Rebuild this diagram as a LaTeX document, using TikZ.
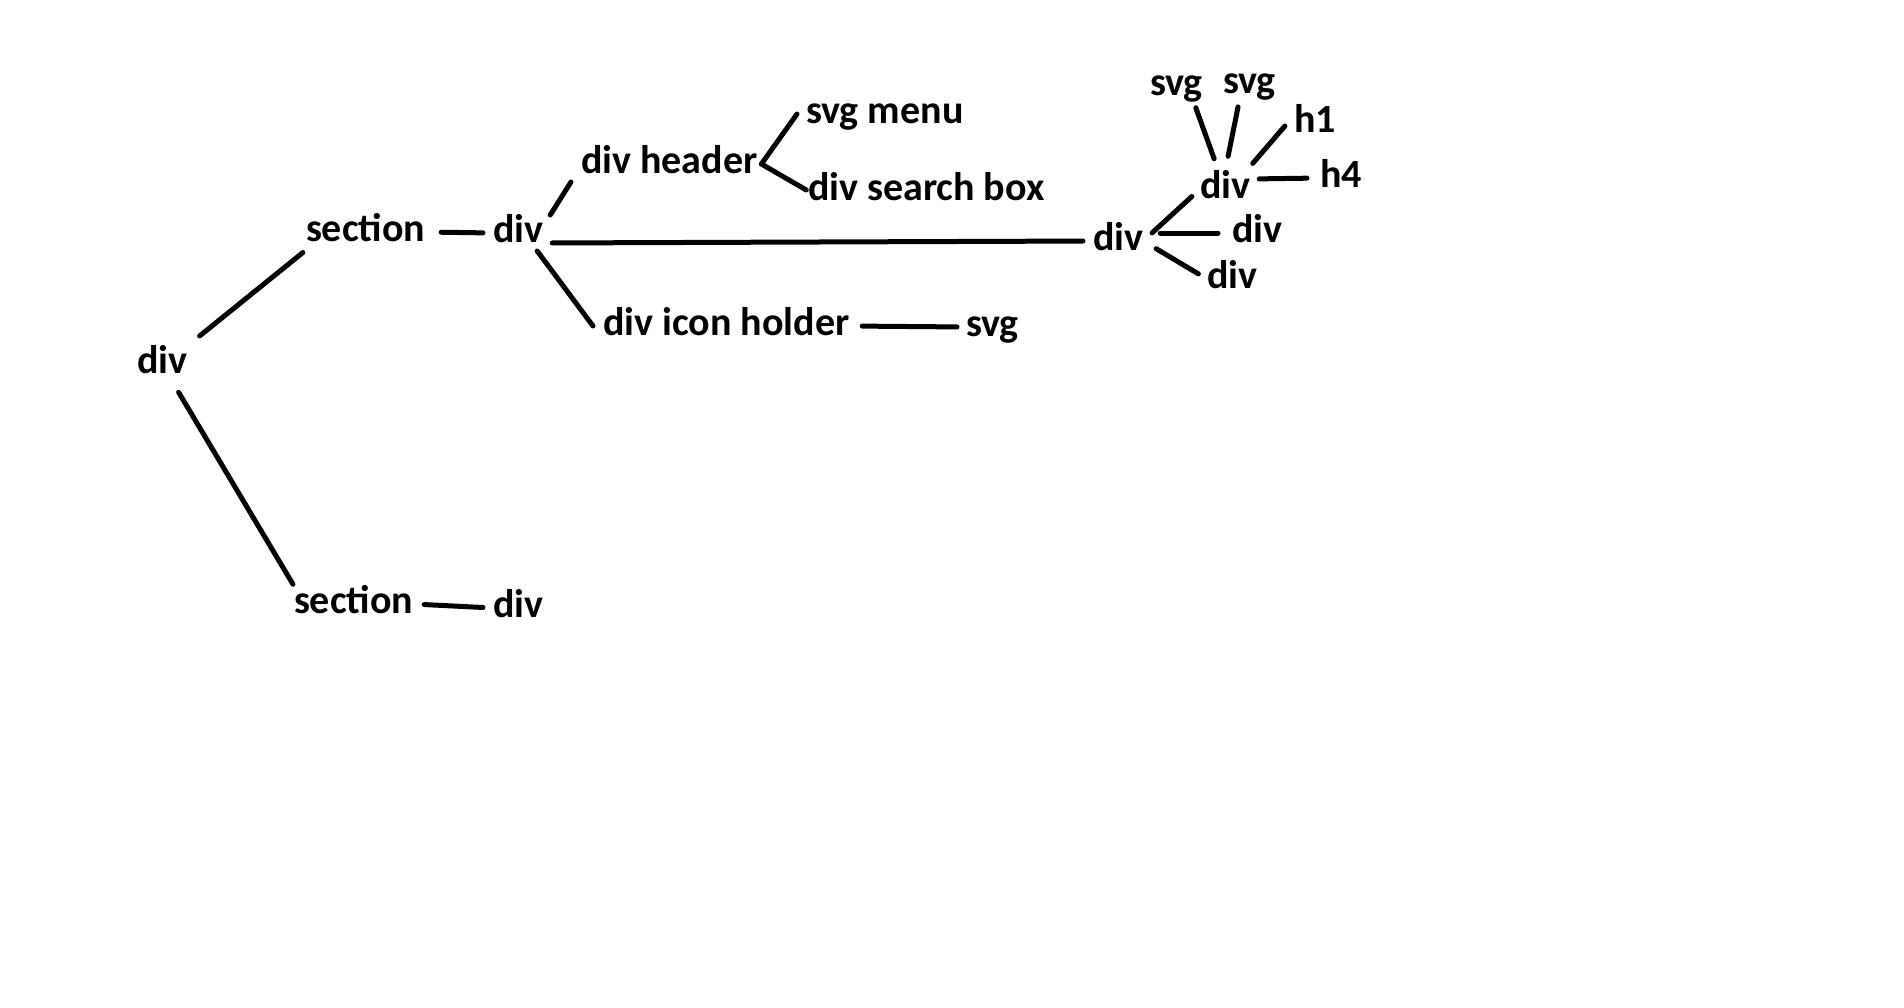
\documentclass[tikz,border=0pt]{standalone}
\usepackage{fontspec}
\setmainfont{Carlito}
\usetikzlibrary{positioning, calc}

\begin{document}
\begin{tikzpicture}[
  x=1pt, y=-1pt,
  tag/.style={font=\fontsize{40pt}{45pt}\selectfont\bfseries,
              inner sep=0pt, outer sep=0pt,
              text height=27pt, text depth=9pt, anchor=base west},
  link/.style={line width=5pt, line cap=round}
]
  \useasboundingbox[fill=white] (0,0) rectangle (1904,1007);

  % left part of the tree
  \node[tag] (root) at (137,373) {div};
  \node[tag] (secA) at (306,241) {section};
  \node[tag] (secB) at (294,613) {section};
  \node[tag] (divA) at (493,242) {div};
  \node[tag] (divB) at (493,617) {div};

  % header and icon holder
  \node[tag] (header) at (581,173) {div header};
  \node[tag] (menu) at (806,123) {svg menu};
  \node[tag] (search) at (808,200) {div search box};
  \node[tag] (icon) at (603,335) {div icon holder};
  \node[tag] (iconsvg) at (966,336) {svg};

  % right part
  \node[tag] (card) at (1093,250) {div};
  \node[tag] (inner) at (1200,198) {div};
  \node[tag] (cardA) at (1232,242) {div};
  \node[tag] (cardB) at (1207,288) {div};
  \node[tag] (svgA) at (1150,95) {svg};
  \node[tag] (svgB) at (1223,93) {svg};
  \node[tag] (hone) at (1294,132) {h1};
  \node[tag] (hfour) at (1320,187) {h4};

  \draw[link, shorten <=16pt, shorten >=4pt] (root.north east) -- (secA.south west);
  \draw[link, shorten <=12pt, shorten >=2pt] (root.-60) -- (secB.north west);
  \draw[link, shorten <=16pt, shorten >=10pt] (secA.east) -- (divA.west);
  \draw[link, shorten <=11pt, shorten >=10pt] (secB.east) -- (divB.west);

  \draw[link] ([xshift=7pt]divA.north east) -- ([xshift=-10pt]header.south west);
  \draw[link, shorten <=9pt, shorten >=10pt] ([yshift=-10pt]divA.east) -- (card.west);
  \draw[link] ([xshift=-6pt]divA.south east) -- ([xshift=-10pt]icon.west);

  \draw[link] ([xshift=4pt]header.east) -- ([xshift=-9pt]menu.west);
  \draw[link, shorten >=2pt] ([xshift=4pt]header.east) -- (search.west);
  \draw[link, shorten <=13pt, shorten >=9pt] (icon.east) -- (iconsvg.west);

  \draw[link, shorten <=12pt, shorten >=11pt] (card.east) -- (inner.west);
  \draw[link, shorten <=17pt, shorten >=14pt] ([yshift=8pt]card.east) -- (cardA.west);
  \draw[link, shorten <=15pt, shorten >=10pt] (card.east) -- (cardB.west);

  \draw[link, shorten <=13pt, shorten >=4pt] (inner.110) -- (svgA.-45);
  \draw[link, shorten <=15pt, shorten >=5pt] (inner.north) -- (svgB.-120);
  \draw[link, shorten <=10pt, shorten >=14pt] ([xshift=-4pt]inner.north east) -- (hone.160);
  \draw[link, shorten <=9pt, shorten >=13pt] ([yshift=10pt]inner.east) -- (hfour.west);
\end{tikzpicture}
\end{document}
